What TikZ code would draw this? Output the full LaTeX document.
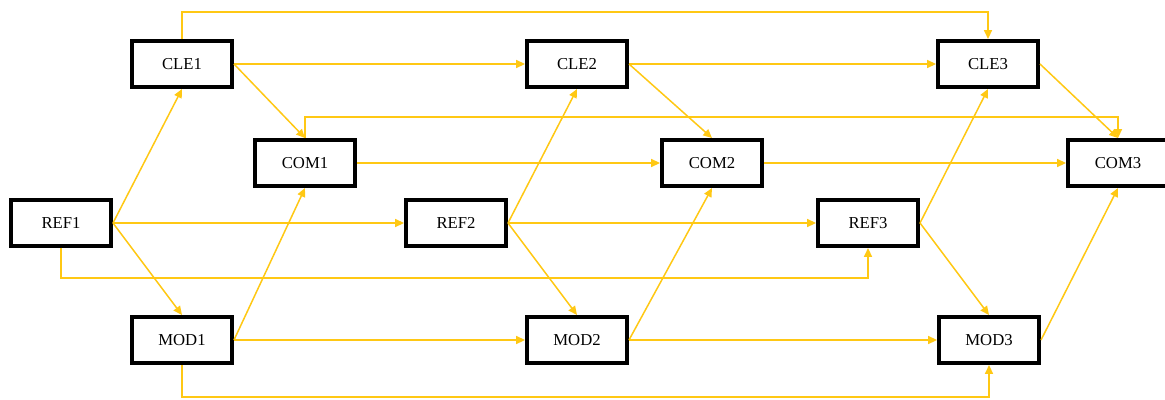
\documentclass[tikz,border=0pt]{standalone}
\usepackage{fontspec}
\setmainfont{Liberation Serif}
\usetikzlibrary{arrows.meta}
\definecolor{conncol}{RGB}{255,200,20}
\tikzset{
  box/.style={draw=black, line width=0.08cm, minimum width=2cm, minimum height=0.92cm, inner sep=0pt, fill=white, font=\fontsize{9.5}{11}\selectfont},
  conn/.style={draw=conncol, line width=0.03cm, -{Triangle[length=5pt,width=4.5pt]}},
}
\begin{document}
\begin{tikzpicture}[x=0.02cm, y=-0.02cm]
\useasboundingbox (0,0) rectangle (1165,399);
\node[box] (CLE1) at (182,64) {CLE1};
\node[box] (CLE2) at (577,64) {CLE2};
\node[box] (CLE3) at (988,64) {CLE3};
\node[box] (COM1) at (305,163) {COM1};
\node[box] (COM2) at (712,163) {COM2};
\node[box] (COM3) at (1118,163) {COM3};
\node[box] (REF1) at (61,223) {REF1};
\node[box] (REF2) at (456,223) {REF2};
\node[box] (REF3) at (868,223) {REF3};
\node[box] (MOD1) at (182,340) {MOD1};
\node[box] (MOD2) at (577,340) {MOD2};
\node[box] (MOD3) at (989,340) {MOD3};
\coordinate (topr) at (988,12);
\coordinate (midr) at (1118,117);
\coordinate (lowr) at (868,278);
\coordinate (botr) at (989,397);
\begin{scope}[on background layer/.style={}]
\draw[conn] (CLE1.north) |- (topr) -- (CLE3.north);
\draw[conn] (COM1.north) |- (midr) -- (COM3.north);
\draw[conn] (REF1.south) |- (lowr) -- (REF3.south);
\draw[conn] (MOD1.south) |- (botr) -- (MOD3.south);
\draw[conn] (CLE1.east) -- (CLE2.west);
\draw[conn] (CLE1.east) -- (COM1.north);
\draw[conn] (COM1.east) -- (COM2.west);
\draw[conn] (REF1.east) -- (CLE1.south);
\draw[conn] (REF1.east) -- (REF2.west);
\draw[conn] (REF1.east) -- (MOD1.north);
\draw[conn] (MOD1.east) -- (COM1.south);
\draw[conn] (MOD1.east) -- (MOD2.west);
\draw[conn] (CLE2.east) -- (CLE3.west);
\draw[conn] (CLE2.east) -- (COM2.north);
\draw[conn] (COM2.east) -- (COM3.west);
\draw[conn] (REF2.east) -- (CLE2.south);
\draw[conn] (REF2.east) -- (REF3.west);
\draw[conn] (REF2.east) -- (MOD2.north);
\draw[conn] (MOD2.east) -- (COM2.south);
\draw[conn] (MOD2.east) -- (MOD3.west);
\draw[conn] (CLE3.east) -- (COM3.north);
\draw[conn] (REF3.east) -- (CLE3.south);
\draw[conn] (REF3.east) -- (MOD3.north);
\draw[conn] (MOD3.east) -- (COM3.south);
\end{scope}
\end{tikzpicture}
\end{document}
